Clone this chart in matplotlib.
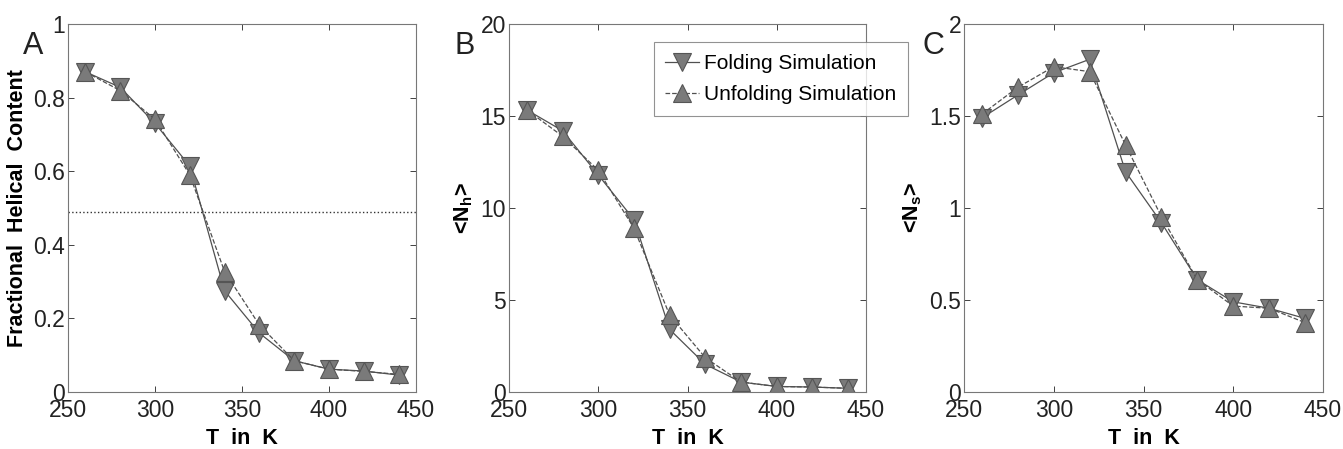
import matplotlib.pyplot as plt
import numpy as np

T = [260, 280, 300, 320, 340, 360, 380, 400, 420, 440]

# Panel A: fractional helical content
helix_fold = [0.87, 0.828, 0.73, 0.614, 0.275, 0.16, 0.085, 0.062, 0.057, 0.046]
helix_unfold = [0.87, 0.819, 0.741, 0.59, 0.327, 0.182, 0.085, 0.062, 0.056, 0.048]
helix_mid = 0.49

# Panel B: <N_h>
nh_fold = [15.33, 14.2, 11.8, 9.37, 3.4, 1.5, 0.54, 0.3, 0.27, 0.2]
nh_unfold = [15.33, 13.9, 12.05, 8.9, 4.18, 1.86, 0.54, 0.3, 0.27, 0.2]

# Panel C: <N_s>
ns_fold = [1.49, 1.614, 1.735, 1.808, 1.197, 0.92, 0.61, 0.49, 0.455, 0.40]
ns_unfold = [1.51, 1.656, 1.768, 1.741, 1.342, 0.953, 0.61, 0.467, 0.455, 0.377]

plt.rcParams['font.family'] = ['Liberation Sans', 'DejaVu Sans']

fig = plt.figure(figsize=(13.43, 4.49), dpi=100)
W, H = 1343, 449
boxes = [(68, 416), (509, 866), (964, 1323)]
letter_x = [23, 455, 922]
top, bottom = 24, 392

mstyle = dict(markersize=13, markerfacecolor='#7a7a7a', markeredgecolor='#555555',
              markeredgewidth=0.8, color='#505050', linewidth=0.9)

panels = [
    ('A', helix_fold, helix_unfold, (0, 1), np.arange(0, 1.01, 0.2), 'Fractional  Helical  Content'),
    ('B', nh_fold, nh_unfold, (0, 20), np.arange(0, 21, 5), r'<N$_\mathregular{h}$>'),
    ('C', ns_fold, ns_unfold, (0, 2), np.arange(0, 2.01, 0.5), r'<N$_\mathregular{s}$>'),
]

axes = []
for (x0, x1), lx, (letter, fold, unfold, ylim, yt, ylab) in zip(boxes, letter_x, panels):
    ax = fig.add_axes([x0 / W, 1 - bottom / H, (x1 - x0) / W, (bottom - top) / H])
    l1, = ax.plot(T, fold, 'v-', **mstyle, label='Folding Simulation')
    l2, = ax.plot(T, unfold, '^--', **mstyle, label='Unfolding Simulation')
    ax.set_xlim(250, 450)
    ax.set_ylim(*ylim)
    ax.set_xticks([250, 300, 350, 400, 450])
    ax.set_yticks(yt)
    ax.set_yticklabels(['%g' % v for v in yt])
    ax.tick_params(direction='in', top=True, right=True, labelsize=16.5, colors='#222222',
                   length=4, width=0.6)
    ax.tick_params(axis='x', pad=5)
    ax.tick_params(axis='y', pad=2)
    for s in ax.spines.values():
        s.set_color('#777777')
        s.set_linewidth(0.8)
    ax.set_xlabel('T  in  K', fontsize=15.5, fontweight='bold', labelpad=4)
    ax.set_ylabel(ylab, fontsize=15.5, fontweight='bold', labelpad=4)
    fig.text(lx / W, 1 - 31 / H, letter, fontsize=22, va='top', ha='left', color='#222222')
    axes.append(ax)

axes[0].axhline(helix_mid, color='#333333', linestyle=':', linewidth=1)

axes[1].legend(handles=[l1, l2], loc='upper left', bbox_to_anchor=((654 - 509) / (866 - 509), 0.95),
               fontsize=15, frameon=True, fancybox=False, edgecolor='#777777',
               handlelength=1.6, handletextpad=0.25, borderpad=0.55, labelspacing=0.6,
               borderaxespad=0).get_frame().set_linewidth(0.8)

fig.savefig('out.png', dpi=100)
